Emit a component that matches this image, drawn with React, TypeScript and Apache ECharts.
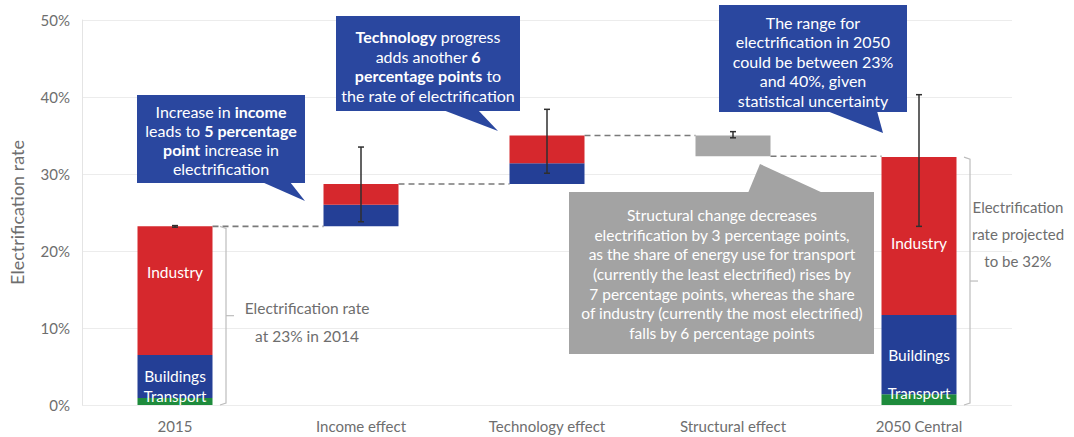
import React, { useEffect, useRef } from "react";
import * as echarts from "echarts";

const categories = ["2015", "Income effect", "Technology effect", "Structural effect", "2050 Central"];
const yTicks = [0, 10, 20, 30, 40, 50];
const baseValues = [0, 23.2, 28.7, 32.3, 0];
const transportValues: (number | null)[] = [0.9, null, null, null, 1.4];
const blueValues: (number | null)[] = [5.6, 2.8, 2.7, null, 10.3];
const redValues: (number | null)[] = [16.7, 2.7, 3.6, null, 20.5];
const grayValues: (number | null)[] = [null, null, null, 2.7, null];
const errorBars = [
  [0, 23.1, 23.3],
  [1, 23.8, 33.5],
  [2, 30.1, 38.4],
  [3, 34.7, 35.5],
  [4, 23.2, 40.3],
];
const connectors = [
  [0, 23.2],
  [1, 28.7],
  [2, 35.0],
  [3, 32.3],
];
const brackets = [
  [0, 0, 23.2],
  [4, 0, 32.2],
];

const RED = "#d6282d";
const BLUE = "#243f96";
const GREEN = "#1e8b3c";
const GRAY = "#a6a6a6";
const CALLOUT = "#2a479f";
const FONT = "Lato, 'Open Sans', sans-serif";
const TXT = "#6e6e6e";

export default function App() {
  const ref = useRef<HTMLDivElement>(null);
  useEffect(() => {
    document.body.style.margin = "0";
    const chart = echarts.init(ref.current!, null, { renderer: "svg" });
    const halfBar = 37.5;
    const FS = 16;
    const calloutText = (x: number, y: number, text: string, lh: number) => ({
      type: "text",
      x,
      y,
      z: 100,
      style: {
        text,
        fill: "#fff",
        fontSize: FS,
        fontFamily: FONT,
        align: "center",
        verticalAlign: "middle",
        lineHeight: lh,
        rich: {
          b: { fontWeight: "bold", fontSize: FS, fill: "#fff", fontFamily: FONT, lineHeight: lh },
          n: { fontSize: FS, fill: "#fff", fontFamily: FONT, lineHeight: lh },
        },
      },
    });
    const option: any = {
      animation: false,
      textStyle: { fontFamily: FONT },
      grid: { left: 82, right: 62, top: 20, bottom: 32 },
      xAxis: {
        type: "category",
        data: categories,
        axisLine: { show: false },
        axisTick: { show: false },
        axisLabel: { color: TXT, fontSize: 15, margin: 13, fontFamily: FONT },
      },
      yAxis: {
        type: "value",
        min: yTicks[0],
        max: yTicks[yTicks.length - 1],
        interval: 10,
        name: "Electrification rate",
        nameLocation: "middle",
        nameGap: 56,
        nameTextStyle: { color: TXT, fontSize: 18, fontFamily: FONT },
        axisLine: { show: true, lineStyle: { color: "#e4e4e4" } },
        axisTick: { show: false },
        axisLabel: { color: TXT, fontSize: 15, formatter: "{value}%", margin: 12, fontFamily: FONT },
        splitLine: { lineStyle: { color: "#ececec" } },
      },
      series: [
        {
          type: "bar",
          stack: "w",
          barWidth: 75,
          data: baseValues,
          itemStyle: { color: "transparent" },
          silent: true,
        },
        {
          type: "bar",
          stack: "w",
          barWidth: 75,
          data: transportValues.map((v, i) =>
            v == null
              ? null
              : {
                  value: v,
                  label: {
                    show: true,
                    formatter: "Transport",
                    position: "insideBottom",
                    distance: i === 0 ? 2 : 5,
                    color: "#fff",
                    fontSize: 15,
                    fontFamily: FONT,
                  },
                }
          ),
          itemStyle: { color: GREEN },
        },
        {
          type: "bar",
          stack: "w",
          barWidth: 75,
          data: blueValues.map((v, i) =>
            v != null && (i === 0 || i === 4)
              ? {
                  value: v,
                  label: {
                    show: true,
                    formatter: "Buildings",
                    position: "inside",
                    offset: [0, i === 0 ? -1 : 0],
                    color: "#fff",
                    fontSize: 15.5,
                    fontFamily: FONT,
                  },
                }
              : v
          ),
          itemStyle: { color: BLUE },
        },
        {
          type: "bar",
          stack: "w",
          barWidth: 75,
          data: redValues.map((v, i) =>
            v != null && (i === 0 || i === 4)
              ? {
                  value: v,
                  label: {
                    show: true,
                    formatter: "Industry",
                    position: "inside",
                    offset: [0, i === 0 ? -19 : 7],
                    color: "#fff",
                    fontSize: 15.5,
                    fontFamily: FONT,
                  },
                }
              : v
          ),
          itemStyle: { color: RED },
        },
        {
          type: "bar",
          stack: "w",
          barWidth: 75,
          data: grayValues,
          itemStyle: { color: GRAY },
        },
        {
          type: "custom",
          data: connectors,
          z: 1,
          renderItem: (params: any, api: any) => {
            const a = api.coord([api.value(0), api.value(1)]);
            const b = api.coord([api.value(0) + 1, api.value(1)]);
            return {
              type: "line",
              shape: { x1: a[0] + halfBar, y1: a[1], x2: b[0] - halfBar, y2: b[1] },
              style: { stroke: "#7a7a7a", lineWidth: 1.6, lineDash: [6, 4] },
            };
          },
        },
        {
          type: "custom",
          data: brackets,
          z: 1,
          renderItem: (params: any, api: any) => {
            const top = api.coord([api.value(0), api.value(2)]);
            const bot = api.coord([api.value(0), api.value(1)]);
            const x = top[0] + 51;
            const ym = (top[1] + bot[1]) / 2;
            return {
              type: "group",
              children: [
                {
                  type: "polyline",
                  shape: { points: [[x - 6, top[1]], [x, top[1] + 2], [x, bot[1] - 2], [x - 6, bot[1]]] },
                  style: { stroke: "#bdbdbd", lineWidth: 1.2, fill: "none" },
                },
                {
                  type: "line",
                  shape: { x1: x, y1: ym, x2: x + 8, y2: ym },
                  style: { stroke: "#bdbdbd", lineWidth: 1.2 },
                },
              ],
            };
          },
        },
        {
          type: "custom",
          data: errorBars,
          z: 10,
          renderItem: (params: any, api: any) => {
            const lo = api.coord([api.value(0), api.value(1)]);
            const hi = api.coord([api.value(0), api.value(2)]);
            const st = { stroke: "#2f2f2f", lineWidth: 1.5 };
            return {
              type: "group",
              children: [
                { type: "line", shape: { x1: lo[0], y1: lo[1], x2: hi[0], y2: hi[1] }, style: st },
                { type: "line", shape: { x1: lo[0] - 3, y1: lo[1], x2: lo[0] + 3, y2: lo[1] }, style: st },
                { type: "line", shape: { x1: hi[0] - 3, y1: hi[1], x2: hi[0] + 3, y2: hi[1] }, style: st },
              ],
            };
          },
        },
      ],
      graphic: [
        // Income callout
        { type: "rect", z: 90, shape: { x: 137, y: 95, width: 168, height: 88 }, style: { fill: CALLOUT } },
        { type: "polygon", z: 90, shape: { points: [[262, 182], [290, 182], [305, 201]] }, style: { fill: CALLOUT } },
        calloutText(221, 140, "{n|Increase in }{b|income}\n{n|leads to }{b|5 percentage}\n{b|point}{n| increase in}\n{n|electrification}", 19),
        // Technology callout
        { type: "rect", z: 90, shape: { x: 336, y: 16, width: 184, height: 95 }, style: { fill: CALLOUT } },
        { type: "polygon", z: 90, shape: { points: [[443, 110], [478, 110], [498, 131]] }, style: { fill: CALLOUT } },
        calloutText(428, 66, "{b|Technology}{n| progress}\n{n|adds another }{b|6}\n{b|percentage points}{n| to}\n{n|the rate of electrification}", 19.5),
        // Range callout
        { type: "rect", z: 90, shape: { x: 719, y: 5, width: 188, height: 107 }, style: { fill: CALLOUT } },
        { type: "polygon", z: 90, shape: { points: [[827, 111], [877, 111], [883, 133]] }, style: { fill: CALLOUT } },
        calloutText(813, 61, "{n|The range for}\n{n|electrification in 2050}\n{n|could be between 23%}\n{n|and 40%, given}\n{n|statistical uncertainty}", 19.5),
        // Structural callout
        { type: "rect", z: 90, shape: { x: 569, y: 192, width: 305, height: 162 }, style: { fill: "#a3a3a3" } },
        { type: "polygon", z: 90, shape: { points: [[748, 193], [823, 193], [760, 164]] }, style: { fill: "#a3a3a3" } },
        {
          type: "text",
          x: 722,
          y: 274,
          z: 100,
          style: {
            text:
              "Structural change decreases\nelectrification by 3 percentage points,\nas the share of energy use for transport\n(currently the least electrified) rises by\n7 percentage points, whereas the share\nof industry (currently the most electrified)\nfalls by 6 percentage points",
            fill: "#fff",
            fontSize: 15.5,
            fontFamily: FONT,
            align: "center",
            verticalAlign: "middle",
            lineHeight: 19.7,
          },
        },
        // bracket annotations
        {
          type: "text",
          x: 307,
          y: 322,
          style: {
            text: "Electrification rate\nat 23% in 2014",
            fill: TXT,
            fontSize: 15.5,
            fontFamily: FONT,
            align: "center",
            verticalAlign: "middle",
            lineHeight: 28,
          },
        },
        {
          type: "text",
          x: 1018,
          y: 234,
          style: {
            text: "Electrification\nrate projected\nto be 32%",
            fill: TXT,
            fontSize: 15,
            fontFamily: FONT,
            align: "center",
            verticalAlign: "middle",
            lineHeight: 27,
          },
        },
      ],
    };
    chart.setOption(option);
    return () => chart.dispose();
  }, []);
  return <div ref={ref} style={{ width: 1074, height: 437 }} />;
}
